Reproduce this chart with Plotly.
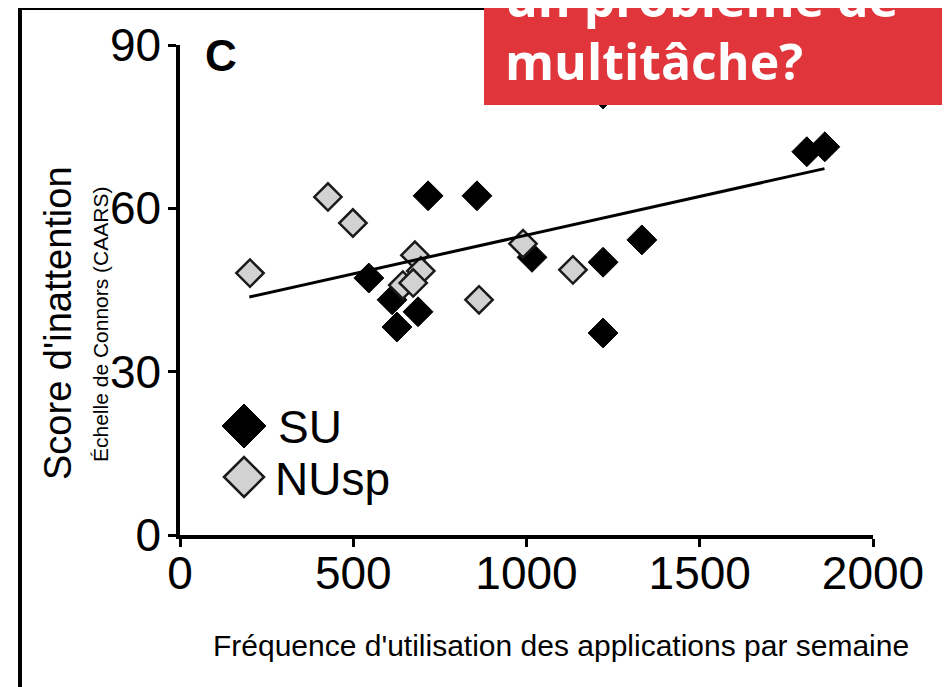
import plotly.graph_objects as go

# ---------------- data ----------------
su_x = [545, 716, 857, 612, 687, 626, 1016, 1221, 1333, 1221, 1809, 1861, 1221]
su_y = [47.2, 62.3, 62.3, 43.2, 41.0, 38.2, 51.0, 50.1, 54.2, 37.1, 70.4, 71.3, 81.0]

nusp_x = [202, 427, 499, 678, 695, 643, 673, 863, 990, 1134]
nusp_y = [48.1, 62.1, 57.3, 51.4, 48.5, 45.9, 46.3, 43.2, 53.5, 48.7]

trend_x = [200, 1860]
trend_y = [43.7, 67.3]

x_ticks = [0, 500, 1000, 1500, 2000]
y_ticks = [0, 30, 60, 90]

legend_labels = ["SU", "NUsp"]

# ---------------- layout helpers (reference pixel -> paper) ----------------
OFF = 8  # page body margin
W, H = 950 - OFF, 687 - OFF
L, T = 180 - OFF, 45 - OFF
R = W - (873 - OFF)
B = H - (535 - OFF)
PW, PH = W - L - R, H - T - B


def px(x):
    return (x - OFF - L) / PW


def py(y):
    return (H - B - (y - OFF)) / PH


ARIAL = "Liberation Sans, Arial, sans-serif"

fig = go.Figure()

fig.add_trace(go.Scatter(
    x=su_x, y=su_y, mode="markers", name=legend_labels[0], showlegend=False,
    marker=dict(symbol="diamond", size=23, color="#000000",
                line=dict(color="#000000", width=1)),
    cliponaxis=False,
))
fig.add_trace(go.Scatter(
    x=nusp_x, y=nusp_y, mode="markers", name=legend_labels[1], showlegend=False,
    marker=dict(symbol="diamond", size=21, color="#d2d2d2",
                line=dict(color="#1a1a1a", width=2.5)),
))
fig.add_trace(go.Scatter(
    x=trend_x, y=trend_y, mode="lines", showlegend=False,
    line=dict(color="#000000", width=3),
))

shapes = []
# outer frame
shapes.append(dict(type="rect", xref="paper", yref="paper",
                   x0=px(20), x1=px(990), y0=py(8), y1=py(740),
                   line=dict(color="#000000", width=4), fillcolor="rgba(0,0,0,0)",
                   layer="above"))
# red banner
shapes.append(dict(type="rect", xref="paper", yref="paper",
                   x0=px(484), x1=px(1000), y0=py(-30), y1=py(105),
                   line=dict(width=0), fillcolor="#E0353A", layer="above"))


def diamond(cx, cy, h):
    return (f"M {px(cx - h)},{py(cy)} L {px(cx)},{py(cy - h)} "
            f"L {px(cx + h)},{py(cy)} L {px(cx)},{py(cy + h)} Z")


# legend symbols
shapes.append(dict(type="path", xref="paper", yref="paper", path=diamond(244, 426, 22),
                   fillcolor="#000000", line=dict(color="#000000", width=1), layer="above"))
shapes.append(dict(type="path", xref="paper", yref="paper", path=diamond(244, 477, 20),
                   fillcolor="#d2d2d2", line=dict(color="#1a1a1a", width=2.5), layer="above"))

annotations = [
    dict(text="C", x=px(221), y=py(55), xref="paper", yref="paper", showarrow=False,
         font=dict(family=ARIAL, size=44, color="#000000", weight="bold"),
         xanchor="center", yanchor="middle"),
    dict(text=legend_labels[0], x=px(276), y=py(427), xref="paper", yref="paper",
         showarrow=False, xanchor="left", yanchor="middle",
         font=dict(family=ARIAL, size=46, color="#000000")),
    dict(text=legend_labels[1], x=px(273), y=py(479), xref="paper", yref="paper",
         showarrow=False, xanchor="left", yanchor="middle",
         font=dict(family=ARIAL, size=46, color="#000000")),
    dict(text="Score d'inattention", x=px(58), y=py(323), xref="paper", yref="paper",
         showarrow=False, textangle=-90, xanchor="center", yanchor="middle",
         font=dict(family=ARIAL, size=38, color="#000000")),
    dict(text="Échelle de Connors (CAARS)", x=px(100), y=py(325), xref="paper", yref="paper",
         showarrow=False, textangle=-90, xanchor="center", yanchor="middle",
         font=dict(family=ARIAL, size=21, color="#000000")),
    dict(text="Fréquence d'utilisation des applications par semaine", x=px(561), y=py(645),
         xref="paper", yref="paper", showarrow=False, xanchor="center", yanchor="middle",
         font=dict(family=ARIAL, size=30, color="#000000")),
    dict(text="un problème de", x=px(503), y=py(17 - 19), xref="paper", yref="paper",
         showarrow=False, xanchor="left", yanchor="middle",
         font=dict(family="Open Sans", size=50, color="#ffffff", weight="bold")),
    dict(text="multitâche?", x=px(503), y=py(80 - 19), xref="paper", yref="paper",
         showarrow=False, xanchor="left", yanchor="middle",
         font=dict(family="Open Sans", size=50, color="#ffffff", weight="bold")),
]

fig.update_layout(
    width=W, height=H,
    margin=dict(l=L, r=R, t=T, b=B, pad=0),
    paper_bgcolor="#ffffff", plot_bgcolor="#ffffff",
    showlegend=False,
    shapes=shapes, annotations=annotations,
    xaxis=dict(range=[0, 2000], tickvals=x_ticks, ticktext=[str(v) for v in x_ticks],
               showgrid=False, zeroline=False, showline=True, linecolor="#000000",
               linewidth=3.5, ticks="outside", ticklen=8, tickwidth=2.5,
               tickcolor="#000000", tickfont=dict(family=ARIAL, size=46, color="#000000"),
               ticklabelstandoff=-13),
    yaxis=dict(range=[0, 90], tickvals=y_ticks, ticktext=[str(v) for v in y_ticks],
               showgrid=False, zeroline=False, showline=True, linecolor="#000000",
               linewidth=3.5, ticks="outside", ticklen=8, tickwidth=2.5,
               tickcolor="#000000", tickfont=dict(family=ARIAL, size=46, color="#000000"),
               ticklabelstandoff=-2),
)

fig.write_html("out.html")
